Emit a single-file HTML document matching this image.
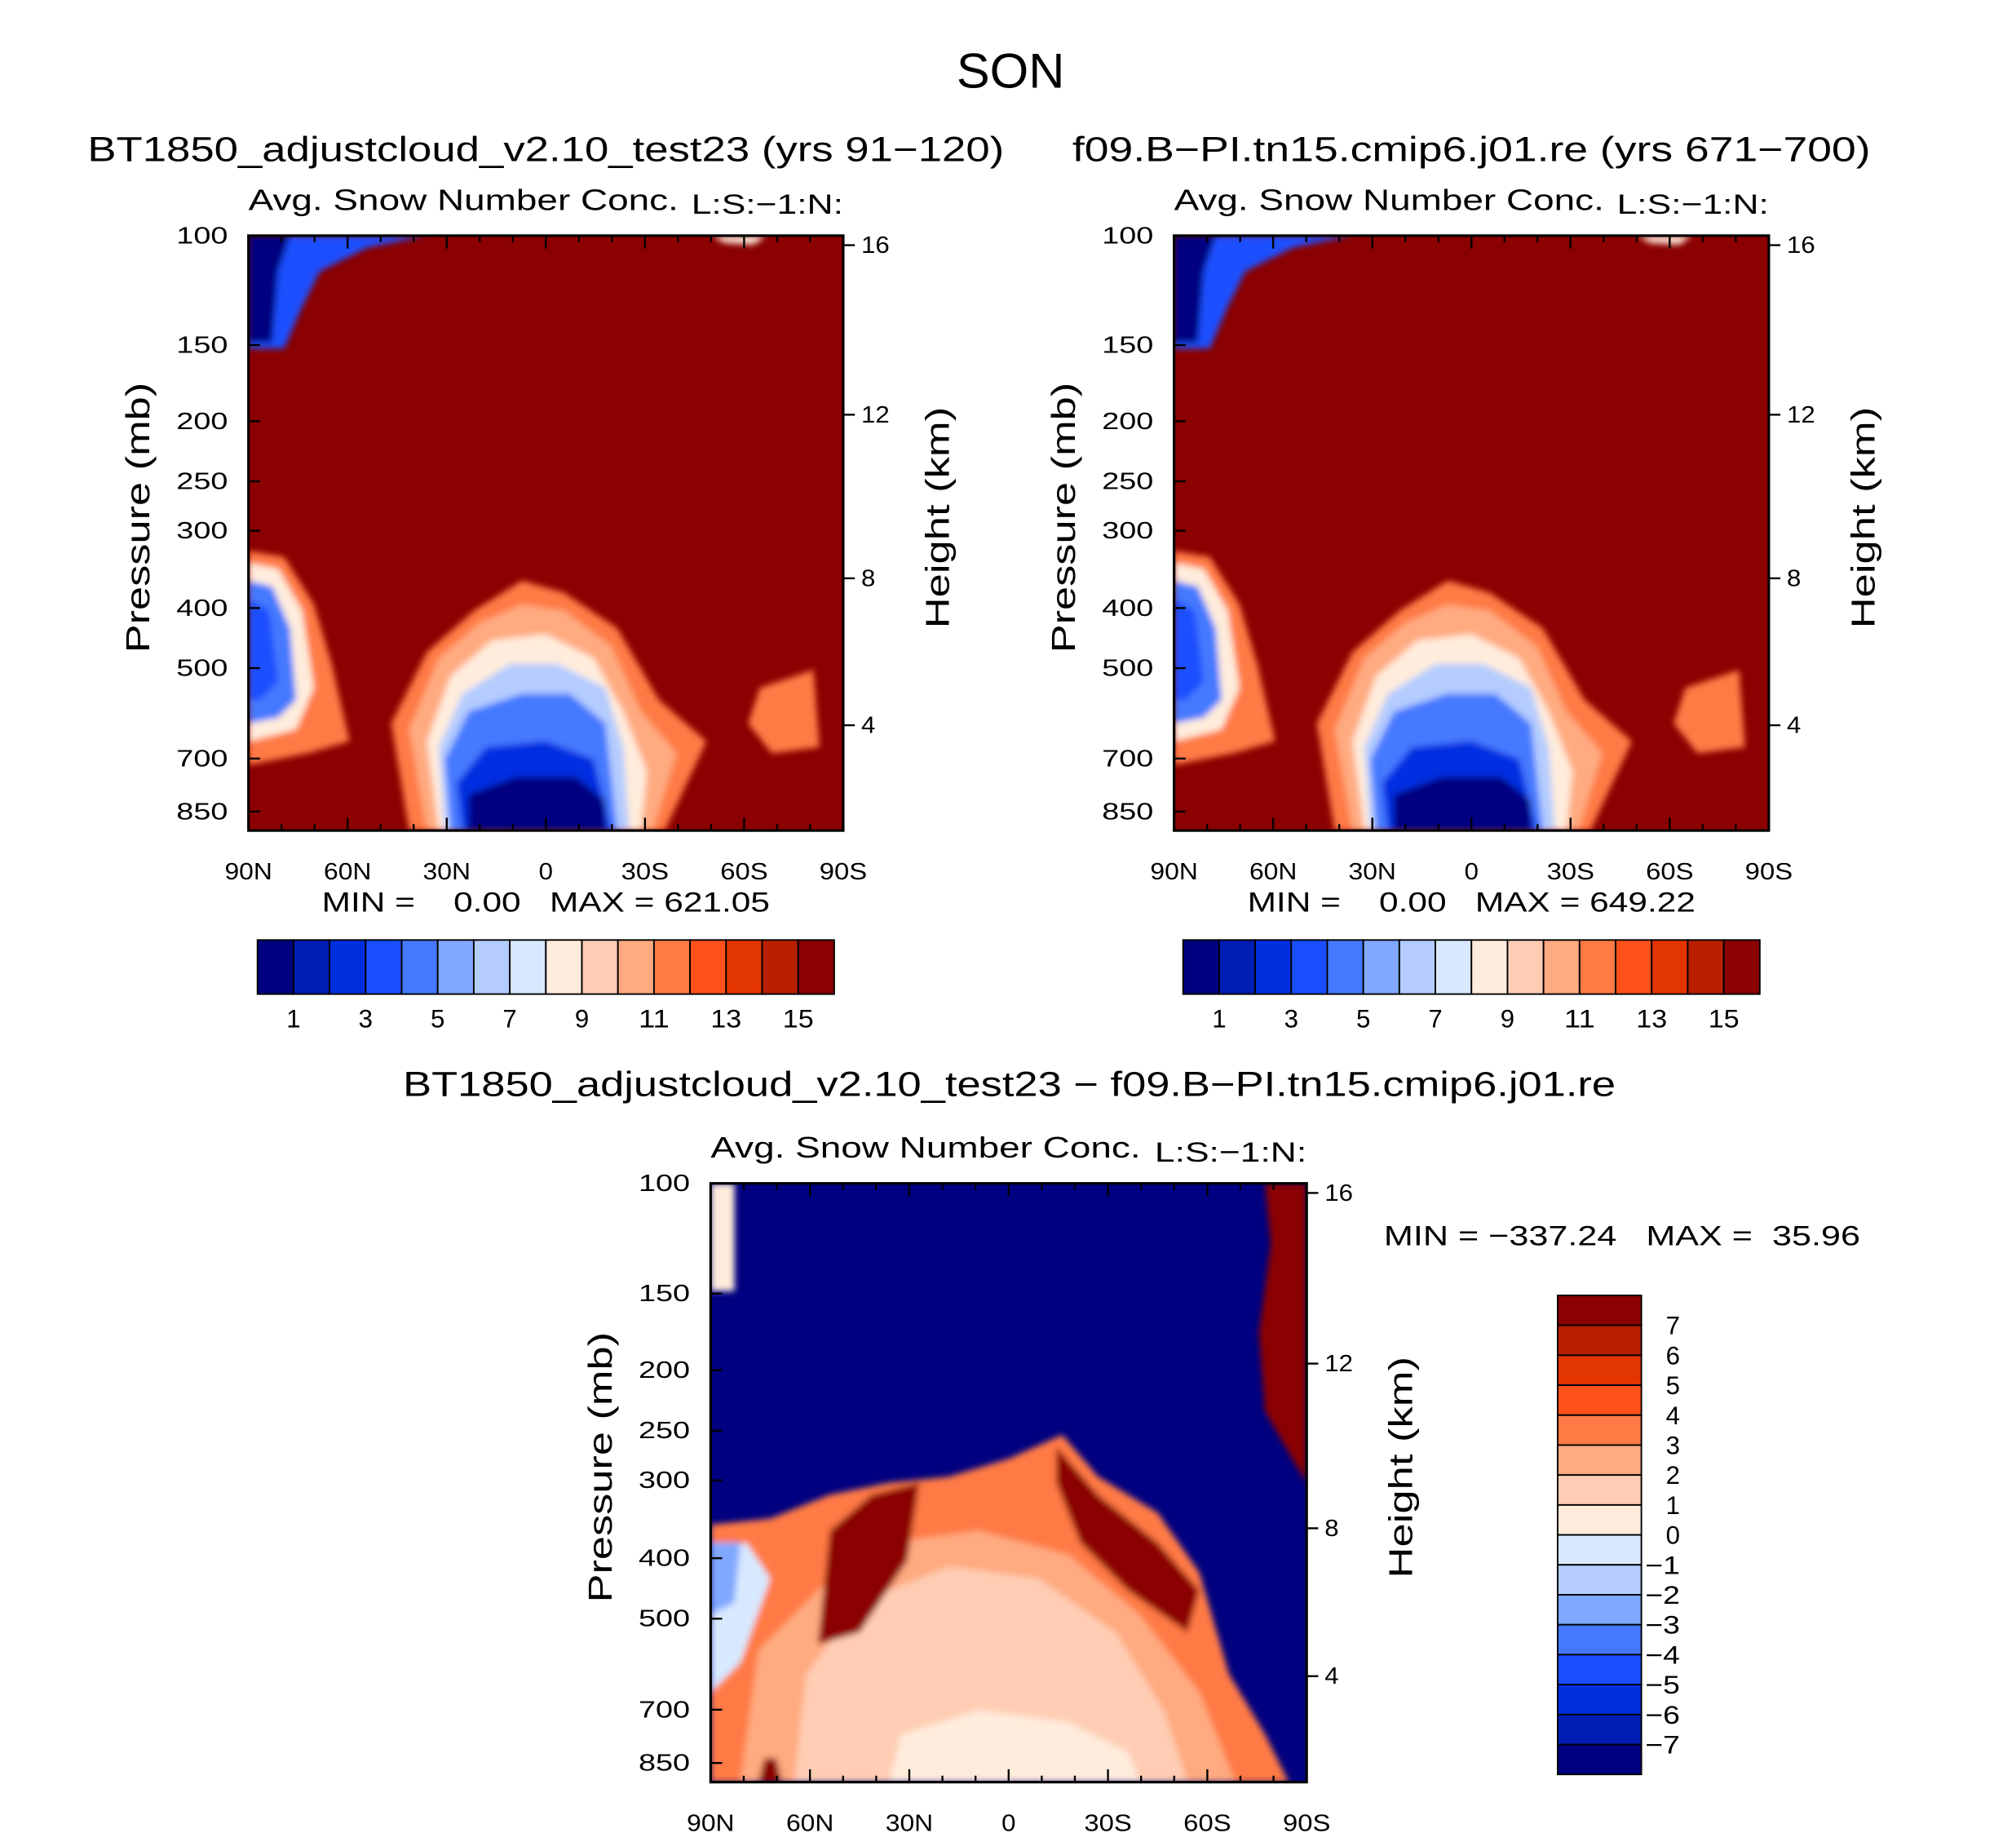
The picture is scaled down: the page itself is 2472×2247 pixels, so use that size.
<!DOCTYPE html>
<html><head><meta charset="utf-8"><style>
html,body{margin:0;padding:0;background:#fff}
svg{display:block}
text{font-family:"Liberation Sans",sans-serif;fill:#000;white-space:pre}
</style></head><body>
<svg id="fig" xmlns="http://www.w3.org/2000/svg" width="2472" height="2247" viewBox="0 0 1566 1423.5">
<defs>
<filter id="bl" x="-5%" y="-5%" width="110%" height="110%"><feGaussianBlur stdDeviation="2.5"/></filter>
<clipPath id="c1"><rect x="193" y="183" width="462" height="462"/></clipPath>
<clipPath id="c2"><rect x="912" y="183" width="462" height="462"/></clipPath>
<clipPath id="c3"><rect x="552" y="919" width="463" height="465"/></clipPath>
</defs>
<text x="785" y="68" font-size="38" text-anchor="middle" textLength="84" lengthAdjust="spacingAndGlyphs">SON</text>
<g id="g"></g>
</svg>
<script>
const palette=['#000080','#001eb4','#002fe0','#1a4fff','#4479ff','#80a8ff','#b4ccff','#d8e9ff','#ffecdc','#ffcdb4','#ffaa80','#ff7a45','#ff5119','#e33500','#b82000','#8b0000'];
const barLabelsTop=['1','3','5','7','9','11','13','15'];
const barLabelsDiff=['7','6','5','4','3','2','1','0','−1','−2','−3','−4','−5','−6','−7'];
const pLevels=[100,150,200,250,300,400,500,700,850];
const pPosFrac=[0,0.184,0.312,0.413,0.496,0.626,0.727,0.879,0.968];
const hLevels=[16,12,8,4];
const hPosFrac=[0.016,0.301,0.576,0.823];
const latLabels=['90N','60N','30N','0','30S','60S','90S'];
const NS='http://www.w3.org/2000/svg';
const G=document.getElementById('g');
function el(t,a,p){const e=document.createElementNS(NS,t);for(const k in a)e.setAttribute(k,a[k]);(p||G).appendChild(e);return e;}
function txt(s,x,y,fs,anchor,len,p){const a={x:x,y:y,'font-size':fs,'text-anchor':anchor||'middle'};if(len){a.textLength=len;a.lengthAdjust='spacingAndGlyphs';}const e=el('text',a,p);e.textContent=s;return e;}

const shapesAbs=[
 [11,[[0.27,1],[0.24,0.82],[0.3,0.7],[0.38,0.63],[0.46,0.58],[0.53,0.6],[0.62,0.66],[0.69,0.78],[0.77,0.85],[0.7,1]]],
 [10,[[0.3,1],[0.27,0.83],[0.32,0.71],[0.39,0.65],[0.46,0.62],[0.53,0.63],[0.61,0.69],[0.66,0.8],[0.72,0.87],[0.68,1]]],
 [8,[[0.32,1],[0.3,0.85],[0.34,0.74],[0.41,0.68],[0.5,0.67],[0.58,0.71],[0.63,0.8],[0.67,0.9],[0.66,1]]],
 [6,[[0.33,1],[0.32,0.86],[0.36,0.77],[0.44,0.72],[0.52,0.72],[0.6,0.76],[0.63,0.86],[0.64,1]]],
 [4,[[0.34,1],[0.33,0.88],[0.37,0.8],[0.46,0.77],[0.54,0.77],[0.6,0.82],[0.62,1]]],
 [2,[[0.36,1],[0.35,0.92],[0.4,0.86],[0.5,0.85],[0.58,0.88],[0.61,1]]],
 [0,[[0.37,1],[0.37,0.94],[0.45,0.91],[0.55,0.91],[0.6,0.95],[0.6,1]]],
 [11,[[0,0.53],[0.06,0.54],[0.11,0.62],[0.14,0.72],[0.17,0.85],[0.1,0.87],[0,0.89]]],
 [8,[[0,0.55],[0.05,0.56],[0.09,0.63],[0.11,0.76],[0.08,0.83],[0,0.85]]],
 [4,[[0,0.58],[0.04,0.59],[0.07,0.66],[0.08,0.78],[0.05,0.81],[0,0.82]]],
 [3,[[0,0.61],[0.035,0.63],[0.05,0.75],[0.02,0.78],[0,0.78]]],
 [11,[[0.84,0.82],[0.86,0.76],[0.95,0.73],[0.96,0.86],[0.88,0.87]]],
 [3,[[0,0],[0.3,0],[0.2,0.02],[0.12,0.06],[0.09,0.12],[0.06,0.19],[0,0.19]]],
 [0,[[0,0],[0.07,0],[0.05,0.06],[0.04,0.18],[0,0.18]]],
 [8,[[0.78,0],[0.87,0],[0.85,0.015],[0.8,0.012]]]
];
const shapesDiff=[
 [11,[[0,0.57],[0.1,0.56],[0.2,0.52],[0.3,0.5],[0.4,0.49],[0.5,0.46],[0.59,0.42],[0.65,0.49],[0.75,0.55],[0.82,0.65],[0.87,0.82],[0.93,0.92],[0.97,1],[0,1]]],
 [10,[[0.05,1],[0.08,0.78],[0.2,0.66],[0.3,0.6],[0.45,0.58],[0.6,0.62],[0.72,0.72],[0.82,0.85],[0.88,1]]],
 [9,[[0.14,1],[0.16,0.82],[0.25,0.7],[0.4,0.64],[0.55,0.66],[0.68,0.75],[0.76,0.88],[0.8,1]]],
 [8,[[0.3,1],[0.32,0.92],[0.45,0.88],[0.6,0.9],[0.7,0.95],[0.72,1]]],
 [15,[[0.18,0.77],[0.2,0.58],[0.27,0.52],[0.35,0.5],[0.33,0.63],[0.25,0.75]]],
 [15,[[0.58,0.44],[0.65,0.52],[0.75,0.6],[0.82,0.68],[0.8,0.75],[0.7,0.68],[0.62,0.6],[0.58,0.5]]],
 [7,[[0,0.62],[0.06,0.6],[0.1,0.66],[0.05,0.8],[0,0.85]]],
 [5,[[0,0.6],[0.05,0.6],[0.04,0.7],[0,0.72]]],
 [15,[[0.93,0],[1,0],[1,0.5],[0.97,0.45],[0.93,0.38],[0.92,0.25],[0.94,0.1]]],
 [8,[[0,0],[0.04,0],[0.04,0.18],[0,0.18]]],
 [15,[[0.08,1],[0.09,0.96],[0.11,0.96],[0.12,1]]]
];
function drawShapes(shapes,x0,y0,w,h,bg,clip,name){
 const grp=el('g',{'clip-path':'url(#'+clip+')'});
 
 
 el('rect',{x:x0,y:y0,width:w,height:h,fill:palette[bg]},grp);
 const inner=el('g',{filter:'url(#bl)'},grp);
 shapes.forEach(s=>{
  const pts=s[1].map(p=>(x0+p[0]*w)+','+(y0+p[1]*h)).join(' ');
  const pg=el('polygon',{points:pts,fill:palette[s[0]]},inner);
  
  
 });
}
function axes(x0,y0,w,h,title,tx,tlen){
 txt(title,tx,y0-58-(tlen>800?10:0),27,'middle',tlen);
 txt('Avg. Snow Number Conc.',x0,y0-20,23,'start',334);
 txt('L:S:−1:N:',x0+w,y0-17,22,'end',118);
 el('rect',{x:x0,y:y0,width:w,height:h,fill:'none',stroke:'#000','stroke-width':2});
 pLevels.forEach((p,i)=>{const y=y0+pPosFrac[i]*h;el('line',{x1:x0,x2:x0+9,y1:y,y2:y,stroke:'#000','stroke-width':1.5});txt(String(p),x0-16,y+6,18,'end',40);});
 hLevels.forEach((v,i)=>{const y=y0+hPosFrac[i]*h;el('line',{x1:x0+w,x2:x0+w+9,y1:y,y2:y,stroke:'#000','stroke-width':1.5});txt(String(v),x0+w+14,y+6,18,'start',v>9?22:11);});
 for(let k=0;k<=18;k++){const x=x0+k*w/18;const L=k%3==0?10:5;el('line',{x1:x,x2:x,y1:y0+h,y2:y0+h-L,stroke:'#000','stroke-width':1.5});el('line',{x1:x,x2:x,y1:y0,y2:y0+L,stroke:'#000','stroke-width':1.5});}
 latLabels.forEach((l,i)=>txt(l,x0+i*w/6,y0+h+38,18,'middle',l.length>1?37:11));
 const a=el('text',{x:0,y:0,'font-size':26,'text-anchor':'middle',textLength:210,lengthAdjust:'spacingAndGlyphs',transform:'translate('+(x0-77)+','+(y0+h*0.5-12)+') rotate(-90)'});a.textContent='Pressure (mb)';
 const b=el('text',{x:0,y:0,'font-size':26,'text-anchor':'middle',textLength:172,lengthAdjust:'spacingAndGlyphs',transform:'translate('+(x0+w+82)+','+(y0+h*0.5-12)+') rotate(-90)'});b.textContent='Height (km)';
}
function hbar(x0,y0){const bw=28;for(let i=0;i<16;i++)el('rect',{x:x0+i*bw,y:y0,width:bw,height:42,fill:palette[i],stroke:'#000','stroke-width':1.2});
 barLabelsTop.forEach((l,i)=>txt(l,x0+bw*(1+2*i),y0+68,20,'middle',l.length>1?24:11));}
drawShapes(shapesAbs,193,183,462,462,15,'c1','panel-1-contours');
axes(193,183,462,462,'BT1850_adjustcloud_v2.10_test23 (yrs 91−120)',424,712);
txt('MIN =    0.00   MAX = 621.05',424,708,22,'middle',348);
hbar(200,730);
drawShapes(shapesAbs,912,183,462,462,15,'c2','panel-2-contours');
axes(912,183,462,462,'f09.B−PI.tn15.cmip6.j01.re (yrs 671−700)',1143,620);
txt('MIN =    0.00   MAX = 649.22',1143,708,22,'middle',348);
hbar(919,730);
drawShapes(shapesDiff,552,919,463,465,0,'c3','panel-3-contours');
axes(552,919,463,465,'BT1850_adjustcloud_v2.10_test23 − f09.B−PI.tn15.cmip6.j01.re',784,942);
txt('MIN = −337.24   MAX =  35.96',1075,967,22,'start',370);
const vb=23.25;for(let i=0;i<16;i++)el('rect',{x:1210,y:1006+i*vb,width:65,height:vb,fill:palette[15-i],stroke:'#000','stroke-width':1.2});
barLabelsDiff.forEach((l,i)=>txt(l,1305,1006+vb*(i+1)+7,20,'end',l.length>1?27:11));
</script>
</body></html>
